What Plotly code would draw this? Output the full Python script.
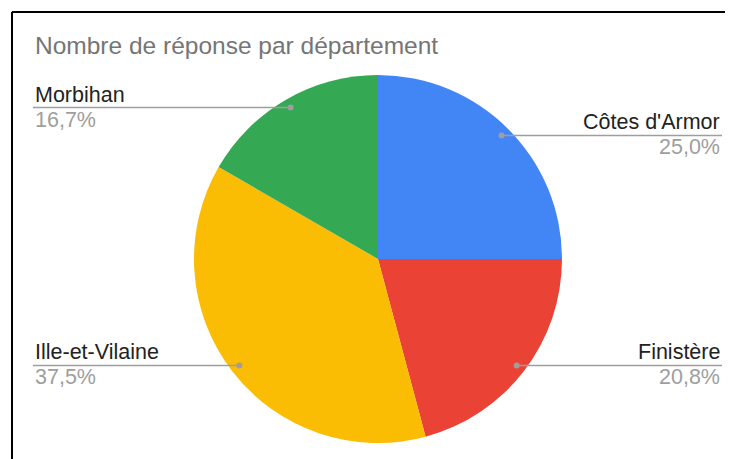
import math
import plotly.graph_objects as go

# données du sondage (nombre de réponses)
departements = ["Côtes d'Armor", "Finistère", "Ille-et-Vilaine", "Morbihan"]
reponses = [6, 5, 9, 4]
couleurs = ["#4285F4", "#EA4335", "#FBBC04", "#34A853"]
titre = "Nombre de réponse par département"

# la page ajoute une marge de 8 px autour de la figure
OFF = 8
W, H = 733 - OFF, 459 - OFF
cx, cy, R = 378, 259, 184  # centre et rayon du camembert (pixels écran)


def px_x(x):
    return (x - OFF) / W


def px_y(y):
    return 1 - (y - OFF) / H


fig = go.Figure(go.Pie(
    labels=departements,
    values=reponses,
    marker=dict(colors=couleurs, line=dict(width=0)),
    sort=False,
    direction="clockwise",
    rotation=0,
    textinfo="none",
    hoverinfo="label+percent",
    domain=dict(x=[px_x(cx - R), px_x(cx + R)], y=[px_y(cy + R), px_y(cy - R)]),
    showlegend=False,
))

# étiquettes avec lignes de rappel, comme dans Google Sheets
total = sum(reponses)
cumul = 0
shapes = []
annotations = []
for nom, val in zip(departements, reponses):
    milieu = (cumul + val / 2) / total * 2 * math.pi
    cumul += val
    dx = 0.95 * R * math.sin(milieu)
    dy = -0.95 * R * math.cos(milieu)
    px, py = cx + dx, cy + dy
    droite = dx > 0
    bord = 722 if droite else 33
    ancre = "right" if droite else "left"
    shapes.append(dict(type="line", xref="paper", yref="paper",
                       x0=px_x(bord), x1=px_x(px), y0=px_y(py), y1=px_y(py),
                       line=dict(color="#9e9e9e", width=1.5)))
    shapes.append(dict(type="circle", xref="paper", yref="paper",
                       x0=px_x(px - 3), x1=px_x(px + 3), y0=px_y(py - 3), y1=px_y(py + 3),
                       fillcolor="#9e9e9e", line=dict(width=0)))
    pct = f"{100 * val / total:.1f}%".replace(".", ",")
    annotations.append(dict(text=nom, x=px_x(bord), y=px_y(py + 1), xref="paper", yref="paper",
                            xanchor=ancre, yanchor="bottom", showarrow=False,
                            font=dict(size=21.5, color="#222222")))
    annotations.append(dict(text=pct, x=px_x(bord), y=px_y(py - 2), xref="paper", yref="paper",
                            xanchor=ancre, yanchor="top", showarrow=False,
                            font=dict(size=21.5, color="#9e9e9e")))

# cadre noir (haut et gauche)
shapes.append(dict(type="line", xref="paper", yref="paper", x0=px_x(12), x1=1.05,
                   y0=px_y(12), y1=px_y(12), line=dict(color="black", width=2)))
shapes.append(dict(type="line", xref="paper", yref="paper", x0=px_x(12), x1=px_x(12),
                   y0=px_y(12), y1=-0.05, line=dict(color="black", width=2)))

annotations.append(dict(text=titre, x=px_x(33), y=px_y(46), xref="paper", yref="paper",
                        xanchor="left", yanchor="middle", showarrow=False,
                        font=dict(size=24.5, color="#757575")))

fig.update_layout(
    width=W, height=H,
    margin=dict(l=0, r=0, t=0, b=0),
    paper_bgcolor="white",
    font=dict(family="Arial, Liberation Sans, sans-serif"),
    shapes=shapes,
    annotations=annotations,
)

fig.write_html("out.html")
